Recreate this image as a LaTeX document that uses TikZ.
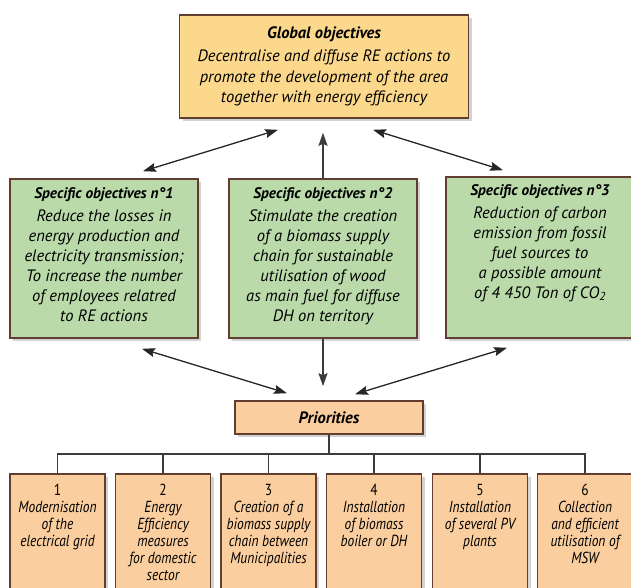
\documentclass[tikz,border=0pt]{standalone}
\usepackage{fontspec}
\setmainfont{PT Sans}
\newfontfamily\condfont[FakeStretch=0.84]{PT Sans}
\usetikzlibrary{arrows.meta,shadows,positioning}
\definecolor{goldfill}{RGB}{252,216,140}
\definecolor{greenfill}{RGB}{186,218,170}
\definecolor{peachfill}{RGB}{250,206,158}
\definecolor{boxline}{RGB}{98,62,48}
\definecolor{linkgray}{RGB}{60,60,60}
\newcommand{\spectitle}[1]{{\bfseries\fontsize{15.3}{20}\selectfont #1}}

\begin{document}
\begin{tikzpicture}[x=1pt,y=-1pt,
  box/.style={draw=boxline,line width=1.6pt,drop shadow={opacity=0.35,shadow xshift=3pt,shadow yshift=-3pt}},
  global node/.style={box,fill=goldfill,minimum width=289pt,minimum height=103pt,align=center,
    font=\itshape\fontsize{16.5}{20.5}\selectfont},
  spec node/.style={box,fill=greenfill,minimum width=188pt,minimum height=159pt},
  spec text/.style={anchor=north,align=center,inner sep=0pt,font=\itshape\fontsize{16.5}{20}\selectfont},
  prio node/.style={box,fill=peachfill,minimum width=188pt,minimum height=33pt,
    font=\bfseries\itshape\fontsize{16.5}{18}\selectfont},
  item node/.style={box,fill=peachfill,minimum width=95pt,minimum height=130pt,anchor=north},
  item text/.style={anchor=north,align=center,inner sep=0pt,font=\condfont\itshape\fontsize{16}{17}\selectfont},
  link/.style={line width=1.3pt,draw=black!85,{Stealth[length=13pt,width=9pt,inset=2pt]}-{Stealth[length=13pt,width=9pt,inset=2pt]}},
  uplink/.style={line width=1.5pt,draw=linkgray,-{Stealth[length=13pt,width=9pt,inset=2pt]}},
  bus/.style={line width=1.2pt,draw=linkgray}]

  \useasboundingbox (0,0) rectangle (631,588);

  \node[global node] (g) at (324,66.5) {\textbf{Global objectives}\\[3pt]
    Decentralise and diffuse RE actions to\\
    promote the development of the area\\
    together with energy efficiency};

  \node[spec node] (s1) at (104,258.5) {};
  \node[spec node] (s2) at (323,258.5) {};
  \node[spec node, minimum height=161pt] (s3) at (540,257.5) {};

  \node[spec text] (t1) at ([yshift=-9pt]s1.north) {\spectitle{Specific objectives n°1}\\[3pt]
    Reduce the losses in\\ energy production and\\ electricity transmission;\\
    To increase the number\\ of employees relatred\\ to RE actions};
  \node[spec text] (t2) at ([yshift=-9pt]s2.north) {\spectitle{Specific objectives n°2}\\[3pt]
    Stimulate the creation\\ of a biomass supply\\ chain for sustainable\\
    utilisation of wood\\ as main fuel for diffuse\\ DH on territory};
  \node[spec text] (t3) at ([yshift=-8pt]s3.north) {\spectitle{Specific objectives n°3}\\[3pt]
    Reduction of carbon\\ emission from fossil\\ fuel sources to\\
    a possible amount\\ of 4 450 Ton of CO\textsubscript{2}};

  \node[prio node] (p) at (329,417.5) {Priorities};

  \foreach \i/\x/\txt in {1/57.5/{Modernisation\\ of the\\ electrical grid},
      2/163/{Energy\\ Efficiency\\ measures\\ for domestic\\ sector},
      3/268.5/{Creation of a\\ biomass supply\\ chain between\\ Municipalities},
      4/374/{Installation\\ of biomass\\ boiler or DH},
      5/480/{Installation\\ of several PV\\ plants},
      6/585/{Collection\\ and efficient\\ utilisation of\\ MSW}} {
    \node[item node] (b\i) at (\x,473) {};
    \node[item text] (n\i) at ([yshift=-11pt]b\i.north) {{\upshape\i}\\ \txt};
  }

  \draw[link] ([shift={(-46,11)}]g.south) -- ([shift={(39,-7)}]s1.north);
  \draw[uplink] (s2.north) -- ([yshift=-14pt]g.south -| s2.north);
  \draw[link] ([shift={(49,11)}]g.south) -- ([shift={(-37,-6)}]s3.north);

  \draw[link] ([shift={(38,10)}]s1.south) -- ([shift={(-42,-7)}]p.north);
  \draw[uplink] (s2.south) -- ([yshift=14pt]p.north -| s2.south);
  \draw[link] ([shift={(-33,9)}]s3.south) -- ([shift={(26,-6)}]p.north);

  \draw[bus] (p.south) -- ++(0,20);
  \draw[bus] (b1.north) -- ++(0,-19) -| (b6.north);
  \foreach \i in {2,...,5}
    \draw[bus] (b\i.north) -- ++(0,-19);
\end{tikzpicture}
\end{document}
